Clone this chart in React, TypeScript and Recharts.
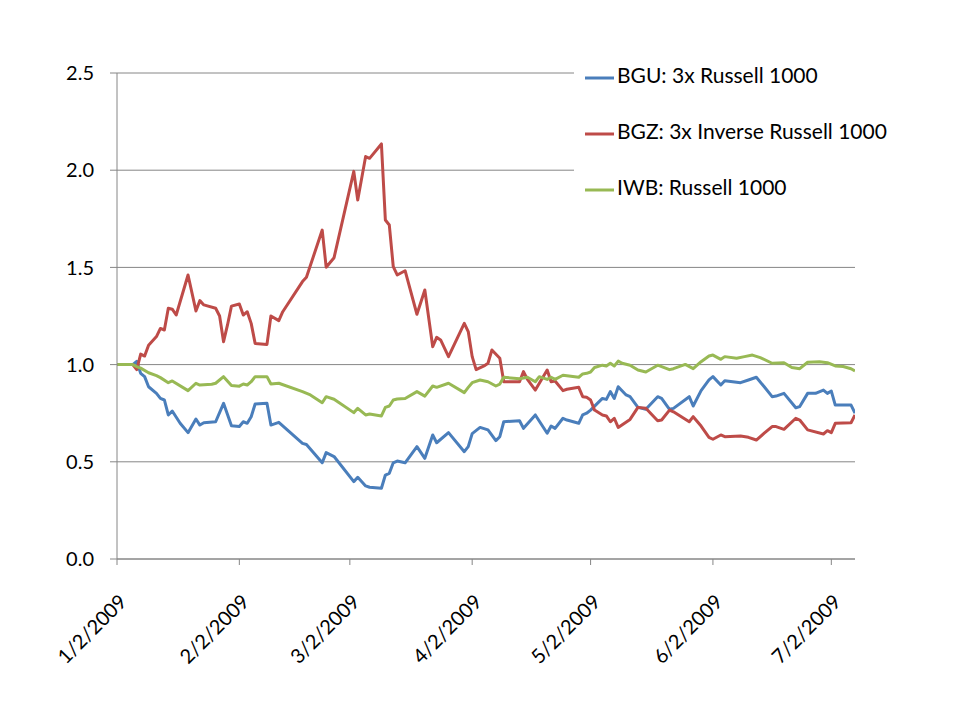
import React from 'react';
import { LineChart, Line, XAxis, YAxis, CartesianGrid } from 'recharts';

// x ticks (month starts) and y ticks
const tickDates = ['1/2', '2/2', '3/2', '4/2', '5/2', '6/2', '7/2'];
const tickLabels = ['1/2/2009', '2/2/2009', '3/2/2009', '4/2/2009', '5/2/2009', '6/2/2009', '7/2/2009'];
const yTicks = [0, 0.5, 1, 1.5, 2, 2.5];

// BGU: 3x Russell 1000
const bguDates = ['1/2', '1/6', '1/7', '1/8', '1/9', '1/10', '1/12', '1/13', '1/14', '1/15', '1/16', '1/18', '1/20', '1/22', '1/23', '1/24', '1/27', '1/29', '1/31', '2/2', '2/3', '2/4', '2/5', '2/6', '2/9', '2/10', '2/12', '2/18', '2/19', '2/23', '2/24', '2/26', '3/3', '3/4', '3/6', '3/7', '3/10', '3/11', '3/12', '3/13', '3/14', '3/16', '3/19', '3/21', '3/23', '3/24', '3/27', '3/31', '4/1', '4/2', '4/4', '4/6', '4/8', '4/9', '4/10', '4/14', '4/15', '4/18', '4/21', '4/22', '4/23', '4/25', '4/26', '4/29', '4/30', '5/1', '5/2', '5/5', '5/6', '5/7', '5/8', '5/9', '5/11', '5/12', '5/14', '5/16', '5/19', '5/20', '5/22', '5/23', '5/27', '5/28', '5/30', '6/1', '6/2', '6/4', '6/5', '6/9', '6/11', '6/13', '6/15', '6/17', '6/18', '6/20', '6/23', '6/24', '6/26', '6/28', '6/30', '7/1', '7/2', '7/3', '7/7', '7/8'];
const bguValues = [1.0, 1.0, 1.017, 0.955, 0.938, 0.886, 0.852, 0.826, 0.818, 0.741, 0.761, 0.698, 0.65, 0.72, 0.689, 0.701, 0.706, 0.801, 0.686, 0.682, 0.706, 0.698, 0.732, 0.797, 0.801, 0.689, 0.703, 0.595, 0.589, 0.495, 0.547, 0.527, 0.398, 0.42, 0.376, 0.369, 0.364, 0.432, 0.441, 0.495, 0.504, 0.495, 0.578, 0.518, 0.638, 0.598, 0.65, 0.552, 0.578, 0.645, 0.677, 0.664, 0.609, 0.629, 0.706, 0.711, 0.672, 0.741, 0.647, 0.684, 0.672, 0.724, 0.715, 0.698, 0.741, 0.75, 0.766, 0.826, 0.821, 0.861, 0.826, 0.886, 0.844, 0.835, 0.78, 0.77, 0.835, 0.826, 0.77, 0.775, 0.835, 0.787, 0.866, 0.921, 0.938, 0.895, 0.917, 0.907, 0.921, 0.935, 0.886, 0.835, 0.838, 0.852, 0.778, 0.784, 0.852, 0.852, 0.869, 0.852, 0.864, 0.792, 0.792, 0.75];

// BGZ: 3x Inverse Russell 1000
const bgzDates = ['1/2', '1/6', '1/7', '1/8', '1/9', '1/10', '1/12', '1/13', '1/14', '1/15', '1/16', '1/17', '1/20', '1/22', '1/23', '1/24', '1/27', '1/28', '1/29', '1/30', '1/31', '2/2', '2/3', '2/4', '2/5', '2/6', '2/9', '2/10', '2/12', '2/13', '2/18', '2/19', '2/23', '2/24', '2/26', '3/3', '3/4', '3/6', '3/7', '3/10', '3/11', '3/12', '3/13', '3/14', '3/16', '3/19', '3/21', '3/23', '3/24', '3/25', '3/27', '3/31', '4/1', '4/2', '4/3', '4/5', '4/6', '4/7', '4/9', '4/10', '4/14', '4/15', '4/16', '4/18', '4/21', '4/22', '4/23', '4/25', '4/26', '4/29', '4/30', '5/1', '5/2', '5/3', '5/5', '5/6', '5/7', '5/8', '5/9', '5/12', '5/14', '5/16', '5/19', '5/20', '5/22', '5/23', '5/27', '5/28', '5/30', '6/1', '6/2', '6/4', '6/5', '6/9', '6/11', '6/13', '6/15', '6/17', '6/18', '6/20', '6/23', '6/24', '6/26', '6/30', '7/1', '7/2', '7/3', '7/7', '7/8'];
const bgzValues = [1.0, 1.0, 0.974, 1.054, 1.044, 1.1, 1.144, 1.186, 1.178, 1.29, 1.285, 1.255, 1.461, 1.276, 1.329, 1.307, 1.29, 1.25, 1.118, 1.204, 1.301, 1.312, 1.255, 1.272, 1.212, 1.109, 1.104, 1.25, 1.226, 1.272, 1.427, 1.449, 1.692, 1.501, 1.55, 1.994, 1.847, 2.07, 2.061, 2.135, 1.744, 1.718, 1.504, 1.461, 1.483, 1.259, 1.384, 1.092, 1.14, 1.127, 1.041, 1.212, 1.17, 1.041, 0.974, 0.993, 1.007, 1.075, 1.033, 0.912, 0.912, 0.964, 0.924, 0.869, 0.972, 0.912, 0.916, 0.866, 0.873, 0.883, 0.835, 0.832, 0.818, 0.766, 0.741, 0.736, 0.706, 0.724, 0.677, 0.718, 0.78, 0.775, 0.711, 0.715, 0.766, 0.757, 0.706, 0.732, 0.684, 0.626, 0.616, 0.638, 0.629, 0.633, 0.626, 0.612, 0.647, 0.681, 0.681, 0.667, 0.724, 0.715, 0.664, 0.643, 0.66, 0.65, 0.698, 0.701, 0.741];

// IWB: Russell 1000
const iwbDates = ['1/2', '1/6', '1/7', '1/8', '1/10', '1/12', '1/13', '1/15', '1/16', '1/20', '1/22', '1/23', '1/26', '1/27', '1/29', '1/31', '2/2', '2/3', '2/4', '2/5', '2/6', '2/9', '2/10', '2/12', '2/18', '2/20', '2/23', '2/24', '2/26', '3/3', '3/4', '3/6', '3/7', '3/10', '3/11', '3/12', '3/13', '3/14', '3/16', '3/19', '3/21', '3/23', '3/24', '3/27', '3/31', '4/1', '4/2', '4/4', '4/6', '4/8', '4/9', '4/10', '4/14', '4/16', '4/18', '4/19', '4/21', '4/22', '4/23', '4/25', '4/29', '4/30', '5/1', '5/2', '5/3', '5/5', '5/6', '5/7', '5/8', '5/9', '5/10', '5/12', '5/14', '5/16', '5/19', '5/22', '5/23', '5/26', '5/28', '5/30', '6/1', '6/2', '6/4', '6/5', '6/8', '6/10', '6/12', '6/14', '6/17', '6/20', '6/22', '6/24', '6/26', '6/29', '7/1', '7/3', '7/5', '7/7', '7/8'];
const iwbValues = [1.0, 1.0, 0.99, 0.982, 0.958, 0.943, 0.933, 0.907, 0.916, 0.866, 0.904, 0.895, 0.899, 0.904, 0.938, 0.892, 0.889, 0.9, 0.895, 0.912, 0.938, 0.938, 0.9, 0.904, 0.861, 0.844, 0.804, 0.835, 0.822, 0.753, 0.775, 0.741, 0.746, 0.736, 0.78, 0.787, 0.818, 0.823, 0.826, 0.861, 0.838, 0.89, 0.883, 0.904, 0.856, 0.883, 0.907, 0.921, 0.912, 0.89, 0.9, 0.935, 0.927, 0.935, 0.912, 0.938, 0.924, 0.935, 0.924, 0.945, 0.935, 0.952, 0.955, 0.962, 0.985, 0.997, 0.993, 1.007, 0.993, 1.018, 1.007, 0.997, 0.972, 0.962, 0.997, 0.974, 0.979, 1.001, 0.979, 1.015, 1.044, 1.049, 1.027, 1.041, 1.033, 1.041, 1.049, 1.036, 1.007, 1.01, 0.985, 0.979, 1.012, 1.015, 1.01, 0.993, 0.99, 0.979, 0.967];

const toTime = (md: string) => {
  const [m, d] = md.split('/').map(Number);
  return Date.UTC(2009, m - 1, d);
};

const build = (dates: string[], values: number[]) => dates.map((d, i) => ({ t: toTime(d), v: values[i] }));

const bguData = build(bguDates, bguValues);
const bgzData = build(bgzDates, bgzValues);
const iwbData = build(iwbDates, iwbValues);

const series = [
  { name: 'BGU: 3x Russell 1000', color: '#4A7EBB', data: bguData },
  { name: 'BGZ: 3x Inverse Russell 1000', color: '#BE4B48', data: bgzData },
  { name: 'IWB: Russell 1000', color: '#98B954', data: iwbData },
];

const FONT = 'Lato, "Open Sans", sans-serif';
const AXIS = '#868686';

const DateTick = (props: any) => {
  const { x, y, index } = props;
  return (
    <g transform={`translate(${x + 11},${y + 36})`}>
      <text textAnchor="end" transform="rotate(-45)" fontSize={20} fontFamily={FONT} fill="#000">
        {tickLabels[index]}
      </text>
    </g>
  );
};

export default function App() {
  return (
    <div style={{ position: 'absolute', left: 0, top: 0, width: 960, height: 720, background: '#fff' }}>
      <LineChart width={960} height={720} margin={{ top: 73, right: 105, bottom: 81, left: 57 }}>
        <CartesianGrid vertical={false} stroke={AXIS} strokeWidth={1} />
        <XAxis
          type="number"
          dataKey="t"
          domain={[toTime('1/2'), toTime('7/8')]}
          ticks={tickDates.map(toTime)}
          tick={<DateTick />}
          tickSize={6}
          height={80}
          stroke={AXIS}
          interval={0}
          allowDataOverflow
        />
        <YAxis
          domain={[0, 2.5]}
          ticks={yTicks}
          tickFormatter={(v: number) => v.toFixed(1)}
          tickSize={7}
          tickMargin={16}
          width={60}
          stroke={AXIS}
          tick={{ fill: '#000', fontSize: 20, fontFamily: FONT }}
          interval={0}
        />
        {series.map((s) => (
          <Line
            key={s.name}
            data={s.data}
            dataKey="v"
            name={s.name}
            stroke={s.color}
            strokeWidth={3}
            strokeLinejoin="round"
            dot={false}
            activeDot={false}
            isAnimationActive={false}
          />
        ))}
      </LineChart>

      {/* legend sits on top of the plot and hides the top gridlines */}
      <div style={{ position: 'absolute', left: 574, top: 48, width: 360, height: 168, background: '#fff' }}>
        <svg width={360} height={168}>
          {series.map((s, i) => (
            <g key={s.name} transform={`translate(0,${30 + i * 56})`}>
              <line x1={11} x2={40} y1={0} y2={0} stroke={s.color} strokeWidth={3} />
              <text x={43} y={4.5} fontSize={21} fontFamily={FONT} fill="#000">
                {s.name}
              </text>
            </g>
          ))}
        </svg>
      </div>
    </div>
  );
}
